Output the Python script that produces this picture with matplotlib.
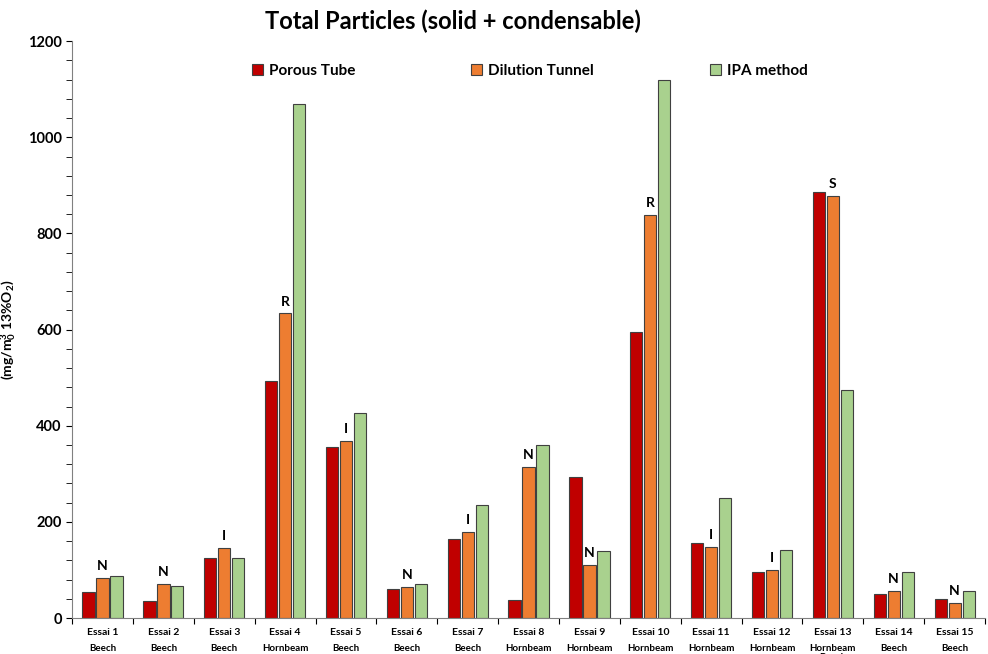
import matplotlib
matplotlib.use("Agg")
import matplotlib.pyplot as plt
import numpy as np
from matplotlib.ticker import MultipleLocator

plt.rcParams["font.family"] = ["Lato", "DejaVu Sans"]
plt.rcParams["mathtext.fontset"] = "custom"
plt.rcParams["mathtext.rm"] = "Lato:bold"
plt.rcParams["mathtext.bf"] = "Lato:bold"
plt.rcParams["mathtext.default"] = "bf"

essais = [f"Essai {i}" for i in range(1, 16)]
woods = ["Beech", "Beech", "Beech", "Hornbeam", "Beech", "Beech", "Beech",
         "Hornbeam", "Hornbeam", "Hornbeam", "Hornbeam", "Hornbeam",
         "Hornbeam\nBeech", "Beech", "Beech"]
porous = [54, 35, 125, 493, 356, 60, 164, 37, 293, 595, 156, 96, 886, 50, 40]
dilution = [83, 71, 146, 634, 368, 64, 179, 314, 110, 838, 148, 100, 878, 56, 31]
ipa = [87, 67, 125, 1069, 426, 71, 235, 360, 139, 1119, 250, 141, 474, 96, 56]
flags = ["N", "N", "I", "R", "I", "N", "I", "N", "N", "R", "I", "I", "S", "N", "N"]

fig = plt.figure(figsize=(9.88, 6.54), dpi=100)
ax = fig.add_axes([0.073, 0.055, 0.924, 0.882])

x = np.arange(len(essais))
w = 0.2
step = 0.23
edge = "#404040"
ax.bar(x - step, porous, w, color="#C00000", edgecolor=edge, lw=0.8, label="Porous Tube")
ax.bar(x, dilution, w, color="#ED7D31", edgecolor=edge, lw=0.8, label="Dilution Tunnel")
ax.bar(x + step, ipa, w, color="#A9D18E", edgecolor=edge, lw=0.8, label="IPA method")

for xi, v, f in zip(x, dilution, flags):
    ax.text(xi, v + 12, f, ha="center", va="bottom", fontsize=10, fontweight="bold")

ax.set_xlim(-0.5, len(essais) - 0.5)
ax.set_ylim(0, 1200)
ax.yaxis.set_major_locator(MultipleLocator(200))
ax.yaxis.set_minor_locator(MultipleLocator(40))
ax.tick_params(axis="y", which="both", direction="out", length=4, labelsize=10.5)
for t in ax.get_yticklabels():
    t.set_fontweight("bold")

ax.set_xticks(np.arange(len(essais) + 1) - 0.5)
ax.set_xticklabels([])
ax.tick_params(axis="x", direction="out", length=4)
for xi, e, wd in zip(x, essais, woods):
    ax.text(xi, -0.018, e, transform=ax.get_xaxis_transform(), ha="center",
            va="top", fontsize=7.5, fontweight="bold")
    ax.text(xi, -0.045, wd, transform=ax.get_xaxis_transform(), ha="center",
            va="top", fontsize=7, fontweight="bold", linespacing=1.0)

for s in ["top", "right"]:
    ax.spines[s].set_visible(False)
ax.spines["left"].set_color("#808080")
ax.spines["bottom"].set_color("#808080")

ax.set_ylabel(r"(mg/m$_0^3$ 13%O$_2$)", fontsize=10, fontweight="bold")
ax.yaxis.set_label_coords(-0.059, 0.5)
fig.suptitle("Total Particles (solid + condensable)", x=0.458, y=0.985,
             fontsize=17, fontweight="bold")
ax.legend(loc="upper left", bbox_to_anchor=(0.182, 0.985), ncol=3, frameon=False,
          columnspacing=7.6, handlelength=0.7, handleheight=0.7, handletextpad=0.4,
          prop={"weight": "bold", "size": 11})

fig.savefig("out.png", dpi=100)
